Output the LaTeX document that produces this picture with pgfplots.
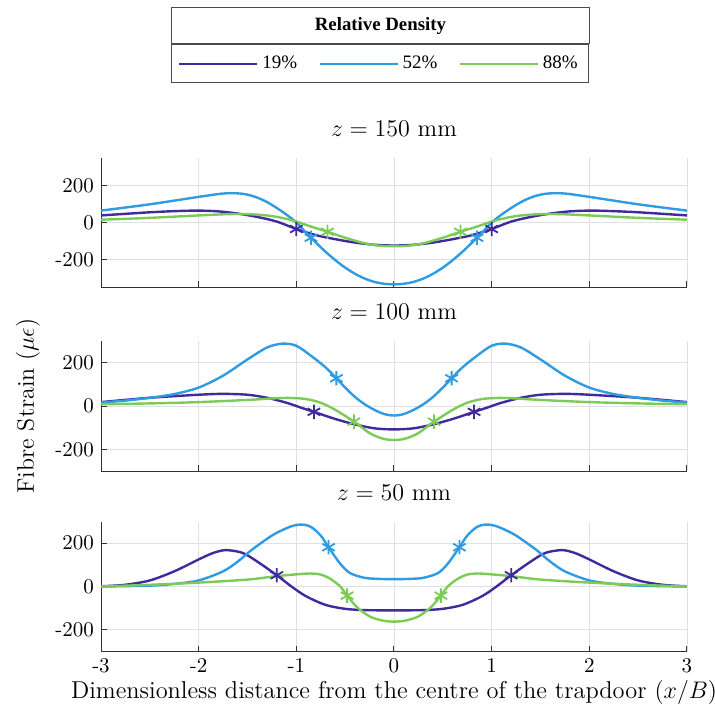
\documentclass[border=0pt]{standalone}
\usepackage{fontspec}
\usepackage{pgfplots}
\pgfplotsset{compat=1.18}
\usetikzlibrary{calc}
\newfontfamily\legfont{Liberation Serif}
\definecolor{cP}{HTML}{3F2A9E}
\definecolor{cB}{HTML}{2E9BE3}
\definecolor{cG}{HTML}{7BCB55}
\pgfplotsset{
 panel/.style={scale only axis, width=293pt, height=65pt, xmin=-3, xmax=3,
   xtick={-3,-2,-1,0,1,2,3}, xticklabels={}, ytick={-200,0,200}, yticklabels={-200,0,200},
   grid=major, major grid style={draw=black!12, line width=0.4pt},
   axis x line*=bottom, axis y line*=left, tick align=inside, major tick length=3pt,
   axis line style={draw=black!80, line width=0.5pt},
   major tick style={draw=black!80, line width=0.5pt},
   tick label style={font=\fontsize{10.5}{12}\selectfont},
   title style={font=\fontsize{12}{14}\selectfont, at={(0.5,1)}, anchor=south, yshift=1pt},
   anchor=north west},
 cl/.style={line width=1.2pt, smooth},
 st/.style={only marks, mark=asterisk, mark size=3.6pt, mark options={line width=0.9pt}, forget plot},
}
\begin{document}
\begin{tikzpicture}
\useasboundingbox (0,0) rectangle (357pt,-359pt);
% ---------- z = 150 mm ----------
\begin{axis}[panel, at={(50.5pt,-78.75pt)}, ymin=-350, ymax=350, title={$z=150$ mm},
  legend columns=3,
  legend style={name=leg, at={(0.476,1.573)}, anchor=south, draw=black!70, line width=0.5pt,
    font=\legfont\fontsize{9.5}{11}\selectfont, inner xsep=3.5pt, inner ysep=3.5pt,
    /tikz/every even column/.append style={column sep=8.5pt}},
  legend cell align=left,
  legend image code/.code={\draw[#1, line width=1.2pt] (0pt,0pt) -- (39pt,0pt);}]
\addplot[cP, cl] coordinates {(-3,38) (-2.5,55) (-2.2,62) (-2,64) (-1.8,60) (-1.6,48) (-1.4,30) (-1.2,5) (-1,-35) (-0.8,-68) (-0.6,-90) (-0.4,-108) (-0.2,-120) (0,-124) (0.2,-120) (0.4,-108) (0.6,-90) (0.8,-68) (1,-35) (1.2,5) (1.4,30) (1.6,48) (1.8,60) (2,64) (2.2,62) (2.5,55) (3,38)};
\addlegendentry{19\%}
\addplot[cB, cl] coordinates {(-3,64) (-2.5,98) (-2,138) (-1.75,156) (-1.6,157) (-1.5,150) (-1.4,134) (-1.3,110) (-1.2,78) (-1.1,42) (-1,0) (-0.9,-55) (-0.8,-108) (-0.7,-158) (-0.6,-203) (-0.5,-243) (-0.4,-276) (-0.3,-302) (-0.2,-320) (-0.1,-330) (0,-333) (0.1,-330) (0.2,-320) (0.3,-302) (0.4,-276) (0.5,-243) (0.6,-203) (0.7,-158) (0.8,-108) (0.9,-55) (1,0) (1.1,42) (1.2,78) (1.3,110) (1.4,134) (1.5,150) (1.6,157) (1.75,156) (2,138) (2.5,98) (3,64)};
\addlegendentry{52\%}
\addplot[cG, cl] coordinates {(-3,15) (-2.5,25) (-2,38) (-1.7,45) (-1.5,45) (-1.3,38) (-1.15,25) (-1,5) (-0.85,-22) (-0.68,-50) (-0.5,-82) (-0.3,-112) (-0.15,-125) (0,-128) (0.15,-125) (0.3,-112) (0.5,-82) (0.68,-50) (0.85,-22) (1,5) (1.15,25) (1.3,38) (1.5,45) (1.7,45) (2,38) (2.5,25) (3,15)};
\addlegendentry{88\%}
\addplot[cP, st] coordinates {(-1,-35) (1,-35)};
\addplot[cB, st] coordinates {(-0.85,-82) (0.85,-82)};
\addplot[cG, st] coordinates {(-0.68,-50) (0.68,-50)};
\end{axis}
\path let \p1=(leg.north west), \p2=(leg.north east) in
  node[draw=black!70, line width=0.5pt, anchor=south west, inner sep=0pt,
       minimum width={\x2-\x1}, minimum height=18pt,
       font=\legfont\bfseries\fontsize{9.4}{11}\selectfont] at (leg.north west) {Relative Density};
% ---------- z = 100 mm ----------
\begin{axis}[panel, at={(50.5pt,-170.5pt)}, ymin=-300, ymax=300, title={$z=100$ mm}]
\addplot[cP, cl] coordinates {(-3,18) (-2.5,38) (-2,52) (-1.75,56) (-1.5,52) (-1.3,38) (-1.1,15) (-0.95,-8) (-0.82,-27) (-0.6,-60) (-0.4,-85) (-0.2,-103) (0,-108) (0.2,-103) (0.4,-85) (0.6,-60) (0.82,-27) (0.95,-8) (1.1,15) (1.3,38) (1.5,52) (1.75,56) (2,52) (2.5,38) (3,18)};
\addplot[cB, cl] coordinates {(-3,16) (-2.75,25) (-2.5,38) (-2.25,55) (-2,85) (-1.75,140) (-1.5,215) (-1.3,270) (-1.14,288) (-1,278) (-0.85,232) (-0.7,178) (-0.59,128) (-0.5,85) (-0.4,42) (-0.3,8) (-0.2,-18) (-0.1,-37) (0,-44) (0.1,-37) (0.2,-18) (0.3,8) (0.4,42) (0.5,85) (0.59,128) (0.7,178) (0.85,232) (1,278) (1.14,288) (1.3,270) (1.5,215) (1.75,140) (2,85) (2.25,55) (2.5,38) (2.75,25) (3,16)};
\addplot[cG, cl] coordinates {(-3,8) (-2.5,12) (-2,18) (-1.5,28) (-1.2,36) (-1.05,37) (-0.9,32) (-0.75,15) (-0.6,-18) (-0.41,-72) (-0.25,-125) (-0.12,-150) (0,-157) (0.12,-150) (0.25,-125) (0.41,-72) (0.6,-18) (0.75,15) (0.9,32) (1.05,37) (1.2,36) (1.5,28) (2,18) (2.5,12) (3,8)};
\addplot[cP, st] coordinates {(-0.82,-27) (0.82,-27)};
\addplot[cB, st] coordinates {(-0.59,128) (0.59,128)};
\addplot[cG, st] coordinates {(-0.41,-72) (0.41,-72)};
\end{axis}
% ---------- z = 50 mm ----------
\begin{axis}[panel, at={(50.5pt,-260.75pt)}, ymin=-300, ymax=300, title={$z=50$ mm},
  xticklabels={-3,-2,-1,0,1,2,3},
  xlabel={Dimensionless distance from the centre of the trapdoor $(x/B)$},
  xlabel style={font=\fontsize{12.2}{14}\selectfont, yshift=3pt}]
\addplot[cP, cl] coordinates {(-3,1) (-2.75,8) (-2.5,28) (-2.25,70) (-2,125) (-1.85,155) (-1.72,168) (-1.55,155) (-1.4,115) (-1.2,52) (-1.05,0) (-0.9,-45) (-0.7,-85) (-0.5,-103) (-0.3,-109) (0,-110) (0.3,-109) (0.5,-103) (0.7,-85) (0.9,-45) (1.05,0) (1.2,52) (1.4,115) (1.55,155) (1.72,168) (1.85,155) (2,125) (2.25,70) (2.5,28) (2.75,8) (3,1)};
\addplot[cB, cl] coordinates {(-3,0) (-2.5,4) (-2.25,12) (-2,28) (-1.75,70) (-1.6,115) (-1.46,168) (-1.3,220) (-1.2,248) (-1.05,278) (-0.94,286) (-0.85,275) (-0.75,235) (-0.67,181) (-0.55,105) (-0.45,62) (-0.3,40) (-0.15,35) (0,34) (0.15,35) (0.3,40) (0.45,62) (0.55,105) (0.67,181) (0.75,235) (0.85,275) (0.94,286) (1.05,278) (1.2,248) (1.3,220) (1.46,168) (1.6,115) (1.75,70) (2,28) (2.25,12) (2.5,4) (3,0)};
\addplot[cG, cl] coordinates {(-3,0) (-2.5,8) (-2,18) (-1.5,32) (-1.2,48) (-1,56) (-0.86,60) (-0.75,55) (-0.65,35) (-0.55,0) (-0.48,-42) (-0.38,-95) (-0.25,-138) (-0.12,-157) (0,-162) (0.12,-157) (0.25,-138) (0.38,-95) (0.48,-42) (0.55,0) (0.65,35) (0.75,55) (0.86,60) (1,56) (1.2,48) (1.5,32) (2,18) (2.5,8) (3,0)};
\addplot[cP, st] coordinates {(-1.2,52) (1.2,52)};
\addplot[cB, st] coordinates {(-0.67,181) (0.67,181)};
\addplot[cG, st] coordinates {(-0.48,-42) (0.48,-42)};
\end{axis}
\node[rotate=90, font=\fontsize{12}{14}\selectfont] at (14pt,-203pt) {Fibre Strain ($\mu\epsilon$)};
\end{tikzpicture}
\end{document}
